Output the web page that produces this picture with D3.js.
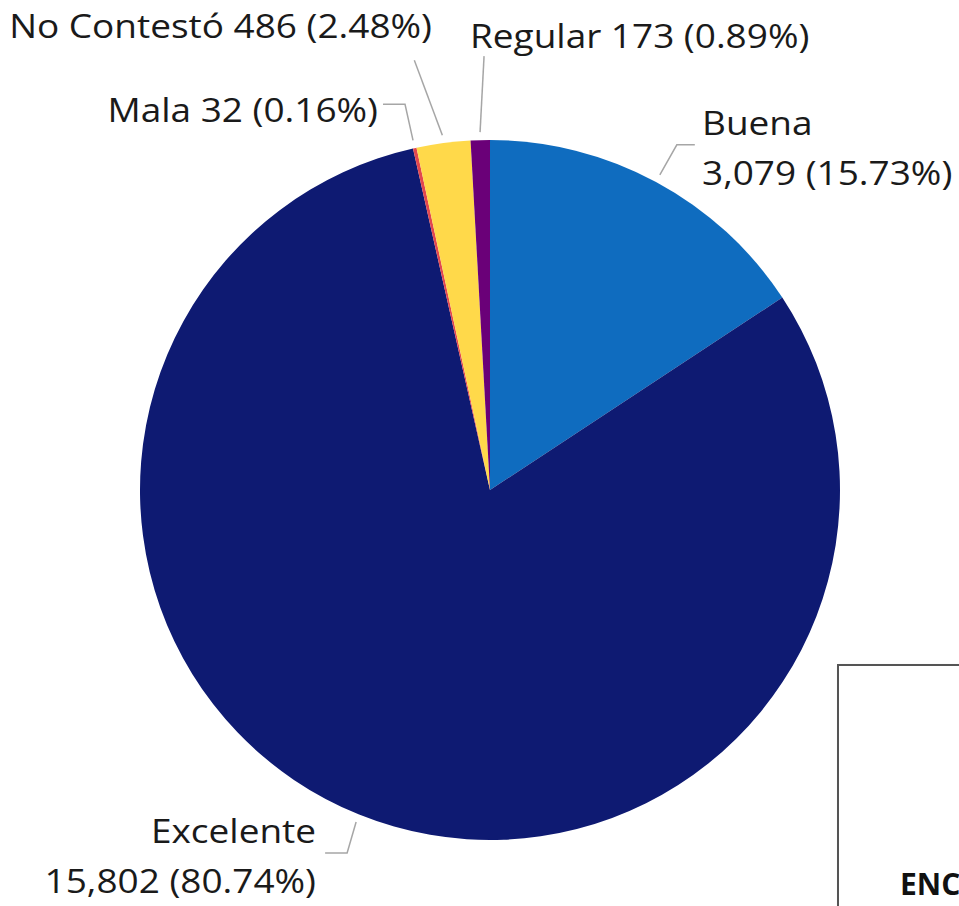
<!DOCTYPE html>
<html>
<head>
<meta charset="utf-8">
<script src="https://cdn.jsdelivr.net/npm/d3@7"></script>
<style>
  html, body { margin: 0; padding: 0; background: #fff; overflow: hidden; }
</style>
</head>
<body>
<div id="chart"></div>
<script>
const WIDTH = 959;
const HEIGHT = 906;

// data, clockwise from 12 o'clock
const categories = ['Buena', 'Excelente', 'Mala', 'No Contestó', 'Regular'];
const counts = [3079, 15802, 32, 486, 173];
const percents = ['15.73%', '80.74%', '0.16%', '2.48%', '0.89%'];
const colors = ['#0f6cbf', '#0e1a72', '#e2474e', '#ffd94a', '#6a0078'];

const cx = 490, cy = 490, radius = 350;
const STRETCH = 1.155; // reference text is wider than the installed fonts

// label layout: elbow points relative to the leader start + text position
const labelLayout = [
  { path: [[17, -30], [35, -30]], x: 702, y: 135, anchor: 'start', lines: 2 },
  { path: [[-9, 31], [-31, 31]], x: 316, y: 843, anchor: 'end', lines: 2 },
  { path: [[-8, -36], [-30, -36]], x: 378, y: 122, anchor: 'end', lines: 1 },
  { path: [[-28, -75]], x: 432, y: 38, anchor: 'end', lines: 1 },
  { path: [[4, -76]], x: 470, y: 48, anchor: 'start', lines: 1 }
];

const svg = d3
  .select('#chart')
  .append('svg')
  .attr('width', WIDTH)
  .attr('height', HEIGHT)
  .style('font-family', "'Open Sans', sans-serif");

// drop shadow for the box in the corner
const defs = svg.append('defs');
const shadow = defs.append('filter').attr('id', 'shadow').attr('x', '-5%').attr('y', '-5%').attr('width', '120%').attr('height', '120%');
shadow.append('feDropShadow').attr('dx', 2).attr('dy', 2).attr('stdDeviation', 1.5).attr('flood-color', '#000').attr('flood-opacity', 0.35);

const pie = d3.pie().sort(null).value(d => d);
const arcs = pie(counts);
const arc = d3.arc().innerRadius(0).outerRadius(radius);
const leaderArc = d3.arc().innerRadius(358).outerRadius(358);

const g = svg.append('g').attr('transform', `translate(${cx},${cy})`);

g.selectAll('path.slice')
  .data(arcs)
  .enter()
  .append('path')
  .attr('class', 'slice')
  .attr('d', arc)
  .attr('fill', (d, i) => colors[i]);

// leader lines
arcs.forEach((d, i) => {
  const [sx, sy] = leaderArc.centroid(d);
  const pts = [[cx + sx, cy + sy]].concat(
    labelLayout[i].path.map(p => [cx + sx + p[0], cy + sy + p[1]])
  );
  svg.append('path')
    .attr('d', d3.line()(pts))
    .attr('fill', 'none')
    .attr('stroke', '#a6a6a6')
    .attr('stroke-width', 1.5);
});

// stretch a text line horizontally to match the reference width
const widen = sel => {
  const w = sel.node().getComputedTextLength();
  sel.attr('textLength', w * STRETCH).attr('lengthAdjust', 'spacingAndGlyphs');
};

// labels
labelLayout.forEach((l, i) => {
  const num = d3.format(',')(counts[i]);
  const rows = l.lines === 2
    ? [categories[i], `${num} (${percents[i]})`]
    : [`${categories[i]} ${num} (${percents[i]})`];
  rows.forEach((row, k) => {
    const t = svg.append('text')
      .attr('x', l.x)
      .attr('y', l.y + k * 50)
      .attr('text-anchor', l.anchor)
      .attr('fill', '#1a1a1a')
      .style('font-size', '32px')
      .text(row);
    widen(t);
  });
});

// box in the lower right corner
svg.append('rect')
  .attr('x', 838)
  .attr('y', 665)
  .attr('width', 200)
  .attr('height', 300)
  .attr('fill', '#fff')
  .attr('stroke', '#555')
  .attr('stroke-width', 2)
  .attr('filter', 'url(#shadow)');

svg.append('text')
  .attr('x', 900)
  .attr('y', 895)
  .attr('fill', '#111')
  .style('font-size', '30px')
  .style('font-weight', 'bold')
  .text('ENC');
</script>
</body>
</html>
